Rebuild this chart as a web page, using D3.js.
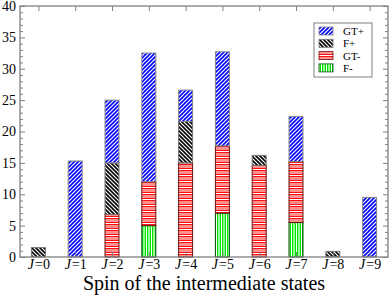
<!DOCTYPE html>
<html><head><meta charset="utf-8">
<script src="https://cdn.jsdelivr.net/npm/d3@7"></script>
<style>body{margin:0;background:#fff}svg{display:block}</style>
</head><body><svg id="c" width="390" height="295"></svg>
<script>
const categories = [0,1,2,3,4,5,6,7,8,9];
const seriesNames = ["F-","GT-","F+","GT+"];
const Fminus  = [0,   0,    0,   5,    0,   7,    0,    5.5, 0,   0];
const GTminus = [0,   0,    6.8, 7,    15,  10.7, 14.6, 9.7, 0,   0];
const Fplus   = [1.5, 0,    8.2, 0,    6.6, 0,    1.6,  0,   0.9, 0];
const GTplus  = [0,   15.3, 10,  20.5, 5,   15,   0,    7.2, 0,   9.5];
const yMajorTicks = [0,5,10,15,20,25,30,35,40];
const legendOrder = ["GT+","F+","GT-","F-"];
const xTitle = "Spin of the intermediate states";

const svg = d3.select("#c");
const L = 20, R = 388, T = 6, B = 257;
const x = d3.scaleLinear().domain([-0.5, 9.5]).range([L, R]);
const y = d3.scaleLinear().domain([0, 40]).range([B, T]);
const bw = (x(1) - x(0)) * 0.38;

// patterns
const defs = svg.append("defs");
function pat(id, w, h, draw) {
  const p = defs.append("pattern").attr("id", id).attr("patternUnits", "userSpaceOnUse")
    .attr("width", w).attr("height", h);
  draw(p);
}
pat("pGTp", 4, 4, p => {
  p.append("rect").attr("width", 4).attr("height", 4).attr("fill", "#fff");
  p.append("path").attr("d", "M0,4L4,0M-1,1L1,-1M3,5L5,3").attr("stroke", "#0000ff").attr("stroke-width", 1.6);
});
pat("pFp", 4, 4, p => {
  p.append("rect").attr("width", 4).attr("height", 4).attr("fill", "#fff");
  p.append("path").attr("d", "M0,0L4,4M-1,3L1,5M3,-1L5,1").attr("stroke", "#000").attr("stroke-width", 1.6);
});
pat("pGTm", 4, 6, p => {
  p.append("rect").attr("width", 4).attr("height", 6).attr("fill", "#ff9090");
  p.append("rect").attr("y", 0).attr("width", 4).attr("height", 1).attr("fill", "#ff1010");
  p.append("rect").attr("y", 1).attr("width", 4).attr("height", 1).attr("fill", "#fff");
  p.append("rect").attr("y", 2).attr("width", 4).attr("height", 1).attr("fill", "#ff1010");
});
pat("pFm", 5, 4, p => {
  p.append("rect").attr("width", 5).attr("height", 4).attr("fill", "#90ff90");
  p.append("rect").attr("x", 0).attr("width", 1).attr("height", 4).attr("fill", "#00e000");
  p.append("rect").attr("x", 1).attr("width", 1).attr("height", 4).attr("fill", "#fff");
  p.append("rect").attr("x", 2).attr("width", 1).attr("height", 4).attr("fill", "#00e000");
});
const fills = {"F-": "url(#pFm)", "GT-": "url(#pGTm)", "F+": "url(#pFp)", "GT+": "url(#pGTp)"};
const strokes = {"F-": "#0a4a0a", "GT-": "#6a1010", "F+": "#777", "GT+": "#888"};

// stacked data
const rows = categories.map((c, i) => ({J: c, "F-": Fminus[i], "GT-": GTminus[i], "F+": Fplus[i], "GT+": GTplus[i]}));
const stack = d3.stack().keys(seriesNames)(rows);

const g = svg.append("g");
stack.forEach(layer => {
  g.append("g").selectAll("rect").data(layer.filter(d => d[1] - d[0] > 0)).join("rect")
    .attr("x", d => x(d.data.J) - bw / 2)
    .attr("y", d => y(d[1]))
    .attr("width", bw)
    .attr("height", d => y(d[0]) - y(d[1]))
    .attr("fill", fills[layer.key])
    .attr("stroke", strokes[layer.key])
    .attr("stroke-width", 1);
});

// axes
const axisColor = "#808080";
function styleAxis(sel) {
  sel.select(".domain").remove();
  sel.selectAll(".tick line").attr("stroke", axisColor).attr("stroke-width", 1);
}
const minorVals = d3.range(0, 41, 1).filter(v => v % 5 !== 0);
svg.append("g").attr("transform", `translate(${L},0)`)
  .call(d3.axisLeft(y).tickValues(yMajorTicks).tickSize(-5).tickPadding(4))
  .call(styleAxis)
  .call(s => s.selectAll("text").attr("font-family", "Liberation Serif, serif").attr("font-size", 14).attr("fill", "#000"));
svg.append("g").attr("transform", `translate(${L},0)`)
  .call(d3.axisLeft(y).tickValues(minorVals).tickSize(-3).tickFormat(""))
  .call(styleAxis);
svg.append("g").attr("transform", `translate(${R},0)`)
  .call(d3.axisRight(y).tickValues(yMajorTicks).tickSize(-5).tickFormat(""))
  .call(styleAxis);
svg.append("g").attr("transform", `translate(${R},0)`)
  .call(d3.axisRight(y).tickValues(minorVals).tickSize(-3).tickFormat(""))
  .call(styleAxis);
svg.append("g").attr("transform", `translate(0,${T})`)
  .call(d3.axisTop(x).tickValues(categories).tickSize(-5).tickFormat(""))
  .call(styleAxis);
const xb = svg.append("g").attr("transform", `translate(0,${B})`)
  .call(d3.axisBottom(x).tickValues(categories).tickSize(-5).tickFormat(""))
  .call(styleAxis);
// x tick labels: italic J followed by "=n", as two adjacent text elements
xb.selectAll(".tick").each(function(d) {
  const tk = d3.select(this);
  const tJ = tk.append("text").attr("font-family", "Liberation Serif, serif").attr("font-size", 14)
    .attr("font-style", "italic").attr("fill", "#000").attr("y", 12).text("J");
  const tN = tk.append("text").attr("font-family", "Liberation Serif, serif").attr("font-size", 14)
    .attr("fill", "#000").attr("y", 12).text("=" + d);
  const wJ = tJ.node().getComputedTextLength();
  const wN = tN.node().getComputedTextLength();
  const x0 = -(wJ + wN + 1) / 2;
  tJ.attr("x", x0).attr("text-anchor", "start");
  tN.attr("x", x0 + wJ + 1).attr("text-anchor", "start");
});

// frame
svg.append("rect").attr("x", L).attr("y", T).attr("width", R - L).attr("height", B - T)
  .attr("fill", "none").attr("stroke", axisColor).attr("stroke-width", 1.3);

// x title
svg.append("text").attr("x", (L + R) / 2).attr("y", 290).attr("text-anchor", "middle")
  .attr("font-family", "Liberation Serif, serif").attr("font-size", 20).attr("fill", "#000").text(xTitle);

// legend
const lg = svg.append("g");
lg.append("rect").attr("x", 314).attr("y", 23).attr("width", 58).attr("height", 54)
  .attr("fill", "#fff").attr("stroke", axisColor).attr("stroke-width", 1);
legendOrder.forEach((k, i) => {
  const cy = 31 + i * 12.3;
  lg.append("rect").attr("x", 319).attr("y", cy - 4).attr("width", 14).attr("height", 8)
    .attr("fill", fills[k]).attr("stroke", strokes[k]).attr("stroke-width", 0.8);
  lg.append("text").attr("x", 343).attr("y", cy + 4).attr("font-family", "Liberation Serif, serif")
    .attr("font-size", 11).attr("fill", "#000").text(k);
});
</script></body></html>
